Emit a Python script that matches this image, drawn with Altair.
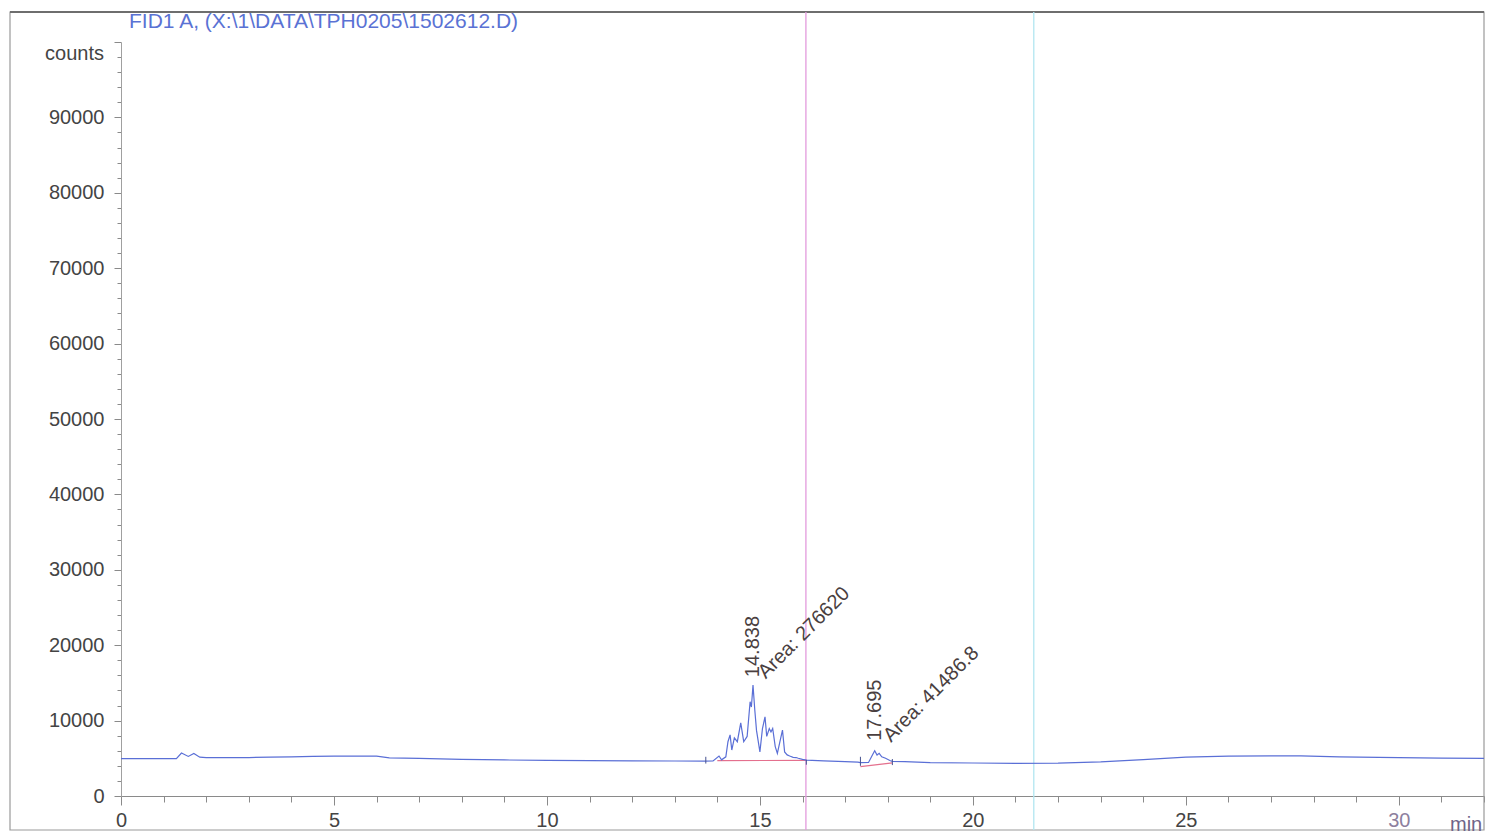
import altair as alt
import pandas as pd

# FID1 A trace: retention time (min) and detector response (counts)
time_min = [
    0.0, 0.5, 1.0, 1.3, 1.42, 1.58, 1.71, 1.85, 2.0, 2.5, 3.0, 3.5, 4.0, 4.5,
    5.0, 5.5, 6.0, 6.3, 7.0, 8.0, 9.0, 10.0, 11.0, 12.0, 13.0, 13.7, 13.9,
    14.04, 14.1, 14.2, 14.25, 14.3, 14.34, 14.4, 14.47, 14.55, 14.62, 14.7,
    14.77, 14.8, 14.838, 14.88, 14.92, 15.0, 15.06, 15.12, 15.16, 15.22, 15.26,
    15.3, 15.36, 15.41, 15.47, 15.53, 15.58, 15.64, 15.7, 15.78, 15.85, 15.9,
    16.0, 16.09, 16.5, 17.0, 17.3, 17.36, 17.55, 17.62, 17.695, 17.75, 17.8,
    17.86, 17.95, 18.05, 18.11, 18.4, 19.0, 20.0, 21.0, 22.0, 23.0, 24.0, 25.0,
    26.0, 27.0, 27.7, 28.6, 30.0, 31.0, 32.0,
]
counts = [
    4950, 4950, 4950, 4960, 5700, 5250, 5650, 5150, 5100, 5100, 5100, 5150,
    5200, 5250, 5280, 5300, 5300, 5050, 4980, 4850, 4780, 4720, 4680, 4650,
    4640, 4620, 4640, 5300, 4800, 5200, 7200, 8100, 6100, 7700, 7200, 9700,
    7200, 7900, 12500, 11800, 14700, 11400, 8700, 5850, 8950, 10500, 7900,
    8950, 8500, 8950, 6550, 5650, 7200, 8750, 5850, 5450, 5300, 5130, 5100,
    5000, 4850, 4750, 4650, 4560, 4500, 4420, 4450, 5200, 6000, 5440, 5660,
    5200, 5000, 4700, 4600, 4550, 4420, 4380, 4330, 4350, 4520, 4820, 5150,
    5300, 5330, 5320, 5200, 5100, 5030, 5000,
]

# integrated peaks
peak_rt = [14.838, 17.695]
peak_height = [14700, 6000]
peak_rt_label = ["14.838", "17.695"]
peak_area_label = ["Area: 276620", "Area: 41486.8"]
area_dx = [13, 17]
area_dy = [-1, 0]
rt_dx = [8, 10]

# integration baselines (start / end of each peak)
base_t = [14.0, 16.09, 17.36, 18.11]
base_c = [4700, 4720, 3900, 4400]
base_peak = ["p1", "p1", "p2", "p2"]

# peak start / end event ticks
event_t = [13.73, 16.09, 17.36, 18.11]
event_lo = [4300, 4150, 4000, 4100]
event_hi = [5200, 4800, 5200, 4900]

# timetable cursor lines
cursor_t = [16.08, 21.43]
cursor_color = ["#e39bdc", "#b2e6f1"]

x_ticks = list(range(0, 33))
y_ticks = list(range(0, 100001, 2000))

W, H = 1363, 754
FONT = "Liberation Sans"
TEXT = "#444444"
AXIS = "#8a8a8a"
LABEL = "#4a3f3f"

trace = pd.DataFrame({"t": time_min, "c": counts})
bases = pd.DataFrame({"t": base_t, "c": base_c, "peak": base_peak})
events = pd.DataFrame({"t": event_t, "lo": event_lo, "hi": event_hi})
cursors = pd.DataFrame({"t": cursor_t, "col": cursor_color})

x_scale = alt.Scale(domain=[0, 32], nice=False, zero=False)
y_scale = alt.Scale(domain=[0, 100000], nice=False)

x_axis = alt.Axis(
    values=x_ticks, tickCount=200, format="d",
    labelExpr="datum.value % 5 === 0 ? datum.label : ''",
    tickSize={"condition": {"test": "datum.value % 5 === 0", "value": 9}, "value": 6},
    labelColor={"condition": {"test": "datum.value === 30", "value": "#8d809e"}, "value": TEXT},
    labelFont=FONT, labelFontSize=20, labelPadding=5,
    labelOverlap=False, labelFlush=False, labelBound=False,
    domainColor=AXIS, tickColor=AXIS, grid=False, title=None,
)
y_axis = alt.Axis(
    values=y_ticks, tickCount=200, format="d",
    labelExpr="datum.value % 10000 === 0 && datum.value < 100000 ? datum.label : ''",
    tickSize={"condition": {"test": "datum.value % 10000 === 0", "value": 7}, "value": 4},
    labelFont=FONT, labelFontSize=20, labelColor=TEXT, labelPadding=10,
    labelOverlap=False, labelFlush=False, labelBound=False,
    domainColor="#a0a0a0", tickColor=AXIS, grid=False, title=None,
)

line = alt.Chart(trace).mark_line(color="#5a6fd6", strokeWidth=1.2, clip=True).encode(
    x=alt.X("t:Q", scale=x_scale, axis=x_axis),
    y=alt.Y("c:Q", scale=y_scale, axis=y_axis),
)

baseline = alt.Chart(bases).mark_line(color="#e4708e", strokeWidth=1.2).encode(
    x="t:Q", y="c:Q", detail="peak:N",
)

event_ticks = alt.Chart(events).mark_rule(color="#46528f", strokeWidth=1).encode(
    x="t:Q", y="lo:Q", y2="hi:Q",
)

cursor_lines = alt.Chart(cursors).mark_rule(strokeWidth=1.3).encode(
    x="t:Q",
    y=alt.value(-30), y2=alt.value(788),
    color=alt.Color("col:N", scale=None),
)

# retention-time and area annotations, one layer per peak
peak_labels = []
for i in range(len(peak_rt)):
    row = pd.DataFrame({"t": [peak_rt[i]], "c": [peak_height[i]],
                        "rt": [peak_rt_label[i]], "area": [peak_area_label[i]]})
    peak_labels.append(
        alt.Chart(row).mark_text(
            angle=270, align="left", baseline="middle", font=FONT, fontSize=20,
            color=LABEL, dx=rt_dx[i],
        ).encode(x="t:Q", y="c:Q", text="rt:N")
    )
    peak_labels.append(
        alt.Chart(row).mark_text(
            angle=315, align="left", baseline="middle", font=FONT, fontSize=20,
            color=LABEL, dx=area_dx[i], dy=area_dy[i],
        ).encode(x="t:Q", y="c:Q", text="area:N")
    )

one = pd.DataFrame({"k": [0]})

frame = alt.Chart(one).mark_rect(filled=False, stroke="#9a9a9a", strokeWidth=1.2).encode(
    x=alt.value(-111), x2=alt.value(W), y=alt.value(-30), y2=alt.value(788),
)
frame_top = alt.Chart(one).mark_rule(color="#6e6e6e", strokeWidth=1.8).encode(
    x=alt.value(-111), x2=alt.value(W), y=alt.value(-30),
)

title = alt.Chart(pd.DataFrame({"s": ["FID1 A, (X:\\1\\DATA\\TPH0205\\1502612.D)"]})).mark_text(
    align="left", baseline="middle", font=FONT, fontSize=21, color="#5a72d4",
).encode(x=alt.value(8), y=alt.value(-20), text="s:N")

y_unit = alt.Chart(pd.DataFrame({"s": ["counts"]})).mark_text(
    align="right", baseline="middle", font=FONT, fontSize=20, color=TEXT,
).encode(x=alt.value(-17), y=alt.value(12), text="s:N")

x_unit = alt.Chart(pd.DataFrame({"s": ["min"]})).mark_text(
    align="left", baseline="middle", font=FONT, fontSize=20, color="#6f6488",
).encode(x=alt.value(1329), y=alt.value(783), text="s:N")

chart = alt.layer(
    frame, frame_top, cursor_lines, baseline, line, event_ticks,
    *peak_labels, title, y_unit, x_unit,
).properties(
    width=W, height=H,
    background="white",
    autosize=alt.AutoSizeParams(type="none"),
    padding={"left": 121, "top": 42, "right": 2, "bottom": 41},
).configure_view(stroke=None)

chart.save("out.html", embed_options={"renderer": "svg", "actions": False})
